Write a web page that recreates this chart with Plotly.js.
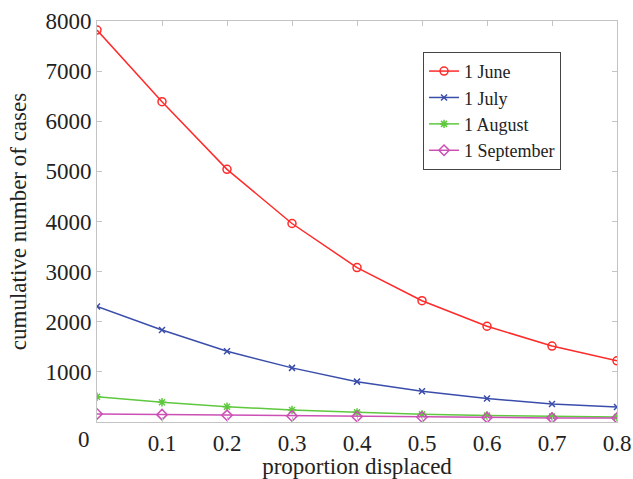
<!DOCTYPE html>
<html><head><meta charset="utf-8">
<script src="https://cdn.plot.ly/plotly-3.0.1.min.js"></script>
<style>html,body{margin:0;padding:0;background:#fff}#chart{width:633px;height:479px}</style>
</head><body><div id="chart"></div>
<script>
const proportion = [0, 0.1, 0.2, 0.3, 0.4, 0.5, 0.6, 0.7, 0.8];
const june = [7820, 6390, 5040, 3960, 3080, 2420, 1910, 1515, 1220];
const july = [2305, 1835, 1410, 1080, 805, 615, 467, 360, 300];
const august = [505, 395, 305, 240, 193, 153, 130, 110, 100];
const september = [160, 147, 133, 120, 110, 100, 90, 82, 80];
const seriesNames = ['1 June', '1 July', '1 August', '1 September'];
const xTicks = [0.1, 0.2, 0.3, 0.4, 0.5, 0.6, 0.7, 0.8];
const yTicks = [1000, 2000, 3000, 4000, 5000, 6000, 7000, 8000];

const font = 'Liberation Serif, Times New Roman, serif';
function tr(y, name, color, symbol, size) {
  return {x: proportion, y: y, name: name, type: 'scatter', mode: 'lines+markers',
    line: {color: color, width: 1.5},
    marker: {symbol: symbol, size: size, color: color, line: {color: color, width: 1.5}}};
}
const data = [
  tr(june, seriesNames[0], '#ff2a2a', 'circle-open', 8),
  tr(july, seriesNames[1], '#3a4dab', 'x-thin-open', 6),
  tr(august, seriesNames[2], '#5ec83e', 'asterisk-open', 7),
  tr(september, seriesNames[3], '#cc4fb5', 'diamond-open', 8)
];
const axisCommon = {showgrid: false, zeroline: false, showline: true, mirror: 'allticks',
  linecolor: '#c4c4c4', linewidth: 1, ticks: 'inside', ticklen: 5, tickcolor: '#c4c4c4',
  tickfont: {family: font, size: 23, color: '#222'}};
const layout = {
  width: 633, height: 479, margin: {l: 97, r: 16, t: 21, b: 57},
  paper_bgcolor: '#fff', plot_bgcolor: '#fff',
  font: {family: font, color: '#222'},
  xaxis: Object.assign({}, axisCommon, {range: [0, 0.8], tickvals: xTicks, ticktext: xTicks.map(v => v.toFixed(1)),
    title: {text: 'proportion displaced', font: {family: font, size: 23, color: '#222'}, standoff: 1}}),
  yaxis: Object.assign({}, axisCommon, {range: [0, 8000], tickvals: yTicks, ticktext: yTicks.map(String),
    title: {text: 'cumulative number of cases', font: {family: font, size: 23, color: '#222'}, standoff: 12}}),
  showlegend: true,
  legend: {x: 0.627, y: 0.923, xanchor: 'left', yanchor: 'top', bgcolor: '#fff',
    bordercolor: '#444', borderwidth: 1, font: {family: font, size: 18, color: '#222'},
    tracegroupgap: 0, itemwidth: 30},
  annotations: [{text: '0', xref: 'paper', yref: 'paper', x: -0.025, y: 0, yanchor: 'top', xanchor: 'center',
    yshift: -3, showarrow: false, font: {family: font, size: 23, color: '#222'}}]
};
Plotly.newPlot('chart', data, layout, {displayModeBar: false, staticPlot: true});
</script></body></html>
